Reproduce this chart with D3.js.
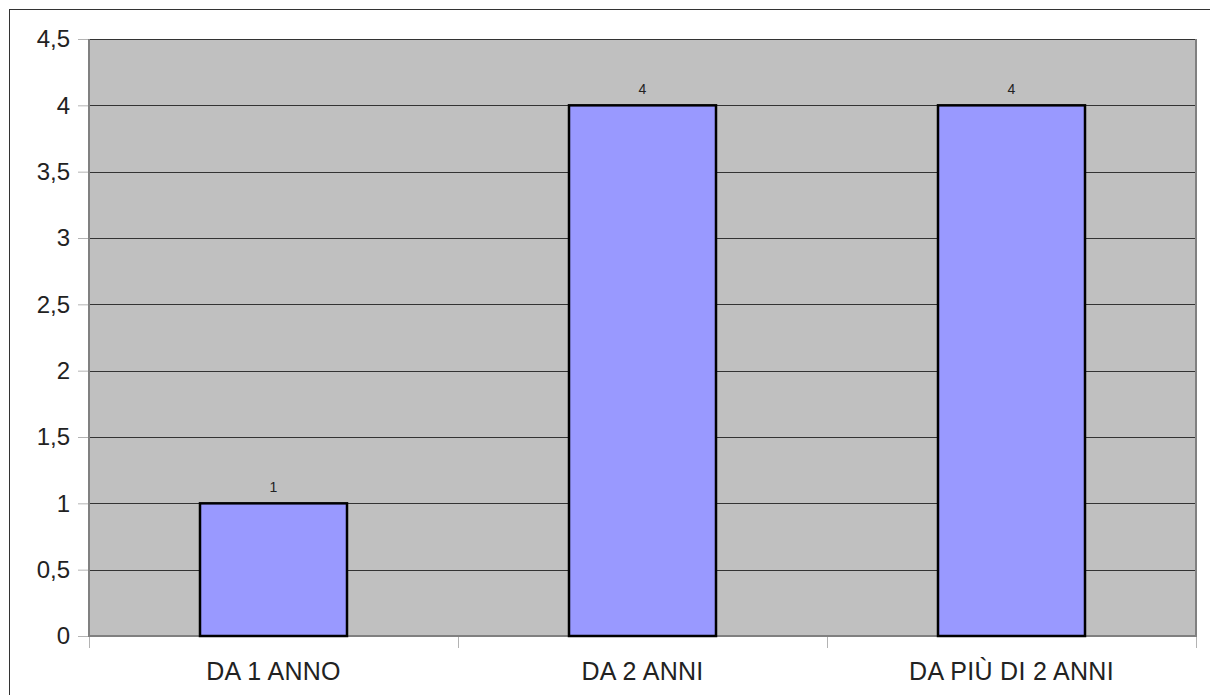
<!DOCTYPE html>
<html><head><meta charset="utf-8">
<script src="https://cdn.jsdelivr.net/npm/d3@7/dist/d3.min.js"></script>
<style>body{margin:0;background:#fff}svg{display:block}</style>
</head><body>
<script>
const categories = ["DA 1 ANNO", "DA 2 ANNI", "DA PIÙ DI 2 ANNI"];
const values = [1, 4, 4];
const yTicks = [0, 0.5, 1, 1.5, 2, 2.5, 3, 3.5, 4, 4.5];

const W = 1210, H = 695;
const m = {left: 89, right: 1196, top: 39, bottom: 636};
const svg = d3.select("body").append("svg").attr("width", W).attr("height", H);
const font = "'Liberation Sans', Arial, sans-serif";

svg.append("rect").attr("x", 9.5).attr("y", 9.5).attr("width", W).attr("height", H)
  .attr("fill", "none").attr("stroke", "#333").attr("stroke-width", 1);

const x = d3.scaleBand().domain(categories).range([m.left, m.right]).paddingInner(0).paddingOuter(0);
const y = d3.scaleLinear().domain([0, 4.5]).range([m.bottom, m.top]);

svg.append("rect").attr("x", m.left).attr("y", m.top)
  .attr("width", m.right - m.left).attr("height", m.bottom - m.top).attr("fill", "#c0c0c0");

// gridlines
svg.append("g").selectAll("line").data(yTicks.filter(d => d > 0)).join("line")
  .attr("x1", m.left).attr("x2", m.right)
  .attr("y1", d => Math.round(y(d)) + 0.5).attr("y2", d => Math.round(y(d)) + 0.5)
  .attr("stroke", "#333").attr("stroke-width", 1);

// y axis
const yAxis = d3.axisLeft(y).tickValues(yTicks).tickSize(11).tickPadding(8)
  .tickFormat(d => String(d).replace(".", ","));
const ga = svg.append("g").attr("transform", `translate(${m.left},0)`).call(yAxis);
ga.select(".domain").remove();
ga.selectAll(".tick line").attr("stroke", "#b3b3b3");
ga.selectAll(".tick text").attr("font-family", font).attr("font-size", 24).attr("fill", "#222");

// x axis
const xAxis = d3.axisBottom(x).tickSize(0).tickPadding(26);
const gx = svg.append("g").attr("transform", `translate(0,${m.bottom})`).call(xAxis);
gx.select(".domain").remove();
gx.selectAll(".tick text").attr("font-family", font).attr("font-size", 25).attr("fill", "#222")
  .attr("letter-spacing", 0.3);
const bounds = categories.map(c => x(c)).concat([m.right]);
svg.append("g").selectAll("line").data(bounds).join("line")
  .attr("x1", d => Math.round(d) + 0.5).attr("x2", d => Math.round(d) + 0.5)
  .attr("y1", m.bottom).attr("y2", m.bottom + 12)
  .attr("stroke", "#b3b3b3");

// plot border
svg.append("path")
  .attr("d", `M${m.left},${m.top} V${m.bottom} H${m.right} V${m.top}`)
  .attr("fill", "none").attr("stroke", "#808080").attr("stroke-width", 2);

// bars
const bw = 147;
svg.append("g").selectAll("rect").data(values).join("rect")
  .attr("x", (d, i) => x(categories[i]) + x.bandwidth() / 2 - bw / 2)
  .attr("y", d => y(d))
  .attr("width", bw)
  .attr("height", d => y(0) - y(d))
  .attr("fill", "#9999ff").attr("stroke", "#000").attr("stroke-width", 2.5);

// value labels
svg.append("g").selectAll("text").data(values).join("text")
  .attr("x", (d, i) => x(categories[i]) + x.bandwidth() / 2)
  .attr("y", d => y(d) - 11)
  .attr("text-anchor", "middle")
  .attr("font-family", font).attr("font-size", 14).attr("fill", "#222")
  .text(d => d);
</script>
</body></html>
